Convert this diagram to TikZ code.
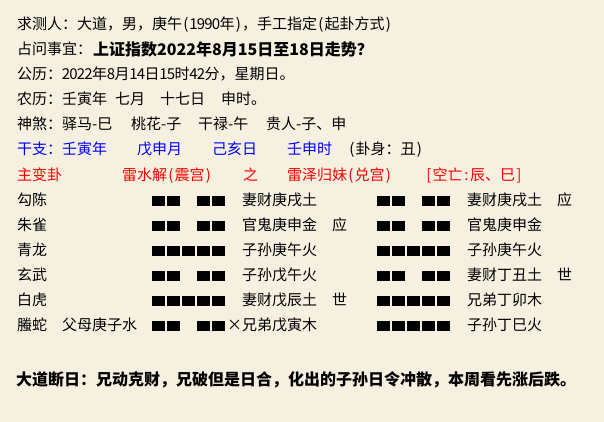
\documentclass[tikz,border=0pt]{standalone}
\usepackage{fontspec}
\setmainfont{Noto Sans CJK SC}
\definecolor{bgcol}{RGB}{246,240,224}
\definecolor{txtblue}{RGB}{0,0,255}
\definecolor{txtred}{RGB}{255,0,0}
\newcommand\hw[1]{\makebox[7.5pt]{#1}}
\newcommand\yaoyang[2]{\foreach \i in {0,...,4}{\fill[barfill] ({#1+15*\i},{#2}) rectangle ++(13.3,10);}}
\newcommand\yaoyin[2]{\foreach \i in {0,1,3,4}{\fill[barfill] ({#1+15*\i},{#2}) rectangle ++(13.3,10);}}
\tikzset{
  txt/.style={anchor=base west, inner sep=0pt, font=\fontsize{15}{15}\selectfont},
  bold/.style={anchor=base west, inner sep=0pt, font=\fontsize{16}{16}\selectfont\bfseries},
  tblue/.style={txt, text=txtblue},
  tred/.style={txt, text=txtred},
  barfill/.style={fill=black},
}
\begin{document}
\begin{tikzpicture}[x=1pt,y=-1pt]
\fill[bgcol] (0,0) rectangle (604,422);
\useasboundingbox (0,0) rectangle (604,422);
% header lines
\node[txt] (r1) at (17,30) {求测人：大道，男，庚午\hw{(}\hw{1}\hw{9}\hw{9}\hw{0}年\hw{)}，手工指定\hw{(}起卦方式\hw{)}};
\node[txt] (r2a) at (17,55) {占问事宜：};
\node[bold] (r2b) at (93,55.5) {上证指数2022年8月15日至18日走势？};
\node[txt] (r3) at (17,80) {公历：\hw{2}\hw{0}\hw{2}\hw{2}年\hw{8}月\hw{1}\hw{4}日\hw{1}\hw{5}时\hw{4}\hw{2}分，星期日。};
\node[txt] (r4a) at (17,105) {农历：壬寅年};
\node[txt] (r4b) at (115,105) {七月};
\node[txt] (r4c) at (160,105) {十七日};
\node[txt] (r4d) at (221,105) {申时。};
\node[txt] (r5a) at (17,130) {神煞：驿马-巳};
\node[txt] (r5b) at (131,130) {桃花-子};
\node[txt] (r5c) at (198,130) {干禄-午};
\node[txt] (r5d) at (266,130) {贵人-子、申};
\node[tblue] (r6a) at (17,155) {干支：壬寅年};
\node[tblue] (r6b) at (137,155) {戊申月};
\node[tblue] (r6c) at (212,155) {己亥日};
\node[tblue] (r6d) at (287,155) {壬申时};
\node[txt] (r6e) at (348,155) {\hw{(}卦身：丑\hw{)}};
\node[tred] (r7a) at (17,180) {主变卦};
\node[tred] (r7b) at (122,180) {雷水解\hw{(}震宫\hw{)}};
\node[tred] (r7c) at (243,180) {之};
\node[tred] (r7d) at (287,180) {雷泽归妹\hw{(}兑宫\hw{)}};
\node[tred] (r7e) at (425,180) {\hw{[}空亡\hw{:}辰、巳\hw{]}};
% yao rows
\node[txt] (s1) at (17,205) {勾陈};
\node[txt] (s2) at (17,230) {朱雀};
\node[txt] (s3) at (17,255) {青龙};
\node[txt] (s4) at (17,280) {玄武};
\node[txt] (s5) at (17,305) {白虎};
\node[txt] (s6) at (17,330) {螣蛇};
\node[txt] (fs6) at (62,330) {父母庚子水};
% main hexagram
\yaoyin{151.7}{195.5}
\yaoyin{151.7}{220.5}
\yaoyang{151.7}{245.5}
\yaoyin{151.7}{270.5}
\yaoyang{151.7}{295.5}
\yaoyin{151.7}{320.5}
\node[txt] (x6) at (227,330) {×};
\node[txt] (m1) at (242,205) {妻财庚戌土};
\node[txt] (m2) at (242,230) {官鬼庚申金};
\node[txt] (m3) at (242,255) {子孙庚午火};
\node[txt] (m4) at (242,280) {子孙戊午火};
\node[txt] (m5) at (242,305) {妻财戊辰土};
\node[txt] (m6) at (242,330) {兄弟戊寅木};
\node[txt] (w2) at (332,230) {应};
\node[txt] (w5) at (332,305) {世};
% changed hexagram
\yaoyin{376.7}{195.5}
\yaoyin{376.7}{220.5}
\yaoyang{376.7}{245.5}
\yaoyin{376.7}{270.5}
\yaoyang{376.7}{295.5}
\yaoyang{376.7}{320.5}
\node[txt] (c1) at (467,205) {妻财庚戌土};
\node[txt] (c2) at (467,230) {官鬼庚申金};
\node[txt] (c3) at (467,255) {子孙庚午火};
\node[txt] (c4) at (467,280) {妻财丁丑土};
\node[txt] (c5) at (467,305) {兄弟丁卯木};
\node[txt] (c6) at (467,330) {子孙丁巳火};
\node[txt] (v1) at (557,205) {应};
\node[txt] (v4) at (557,280) {世};
% conclusion
\node[bold] (end) at (16,385) {大道断日：兄动克财，兄破但是日合，化出的子孙日令冲散，本周看先涨后跌。};
\end{tikzpicture}
\end{document}
